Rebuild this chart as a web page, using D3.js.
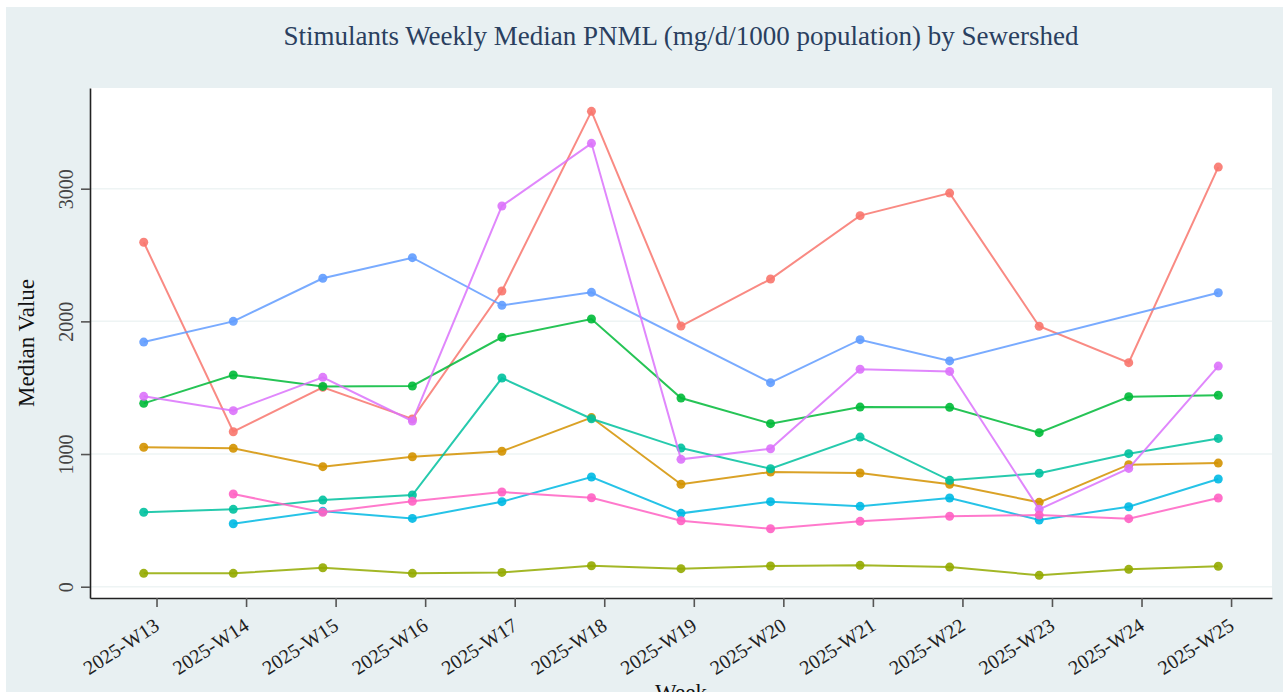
<!DOCTYPE html>
<html>
<head>
<meta charset="utf-8">
<script src="https://cdn.jsdelivr.net/npm/d3@7"></script>
<style>
html,body{margin:0;padding:0;background:#fff;}
svg{display:block;}
</style>
</head>
<body>
<svg id="chart" width="1283" height="692"></svg>
<script>
// ---- data ----
const weekDates = ["2025-03-23","2025-03-30","2025-04-06","2025-04-13","2025-04-20","2025-04-27",
  "2025-05-04","2025-05-11","2025-05-18","2025-05-25","2025-06-01","2025-06-08","2025-06-15"];
const weekLabels = ["2025-W13","2025-W14","2025-W15","2025-W16","2025-W17","2025-W18","2025-W19",
  "2025-W20","2025-W21","2025-W22","2025-W23","2025-W24","2025-W25"];
const seriesNames = ["Sewershed 1","Sewershed 2","Sewershed 3","Sewershed 4","Sewershed 5",
  "Sewershed 6","Sewershed 7","Sewershed 8","Sewershed 9"];
const seriesColors = ["#F8766D","#D39200","#93AA00","#00BA38","#00C19F","#00B9E3","#619CFF","#DB72FB","#FF61C3"];
const s1 = [2596,1168,1503,1265,2229,3583,1965,2319,2797,2967,1963,1689,3163];
const s2 = [1051,1043,905,980,1021,1275,772,865,857,772,636,920,932];
const s3 = [101,101,143,101,108,158,136,156,161,148,86,131,154];
const s4 = [1382,1596,1510,1513,1880,2018,1422,1229,1354,1352,1161,1432,1443];
const s5 = [561,583,653,691,1573,1266,1045,889,1128,802,855,1003,1118];
const s6 = [null,475,568,515,641,827,553,641,606,669,503,603,812];
const s7 = [1844,2000,2325,2480,2121,2219,null,1538,1862,1702,null,null,2216];
const s8 = [1435,1327,1578,1249,2870,3342,960,1040,1639,1623,583,892,1663];
const s9 = [null,699,561,644,714,671,497,437,493,531,540,513,669];
const seriesValues = [s1,s2,s3,s4,s5,s6,s7,s8,s9];
const yTicks = [0,1000,2000,3000];
const titleText = "Stimulants Weekly Median PNML (mg/d/1000 population) by Sewershed";
const xTitle = "Week";
const yTitle = "Median Value";

// ---- layout ----
const svg = d3.select("#chart");
const L = 90, R = 1272, T = 88, B = 598;
const font = "'Liberation Serif','Times New Roman',serif";

svg.append("rect").attr("x",6).attr("y",7).attr("width",1283-6).attr("height",692-7).attr("fill","#e8f0f2");
svg.append("rect").attr("x",L).attr("y",T).attr("width",R-L).attr("height",B-T).attr("fill","#ffffff");

const parse = d3.utcParse("%Y-%m-%d");
const dates = weekDates.map(parse);
const DAY = 864e5;
const pad = 4.2*DAY;
const x = d3.scaleUtc()
  .domain([new Date(+dates[0]-pad), new Date(+dates[dates.length-1]+pad)])
  .range([L,R]);
const y = d3.scaleLinear().domain([-85,3759]).range([B,T]);

// grid
svg.append("g").selectAll("line").data(yTicks).join("line")
  .attr("x1",L).attr("x2",R).attr("y1",d=>y(d)).attr("y2",d=>y(d))
  .attr("stroke","#eef4f4").attr("stroke-width",1.5);

// lines and points
const line = d3.line().x(d=>x(d.date)).y(d=>y(d.v));
seriesValues.forEach((vals,i)=>{
  const pts = vals.map((v,j)=>({date:dates[j],v})).filter(d=>d.v!=null);
  const g = svg.append("g").attr("class","series").attr("data-name",seriesNames[i]);
  g.append("path").datum(pts).attr("d",line).attr("fill","none")
    .attr("stroke",seriesColors[i]).attr("stroke-width",2).attr("stroke-opacity",0.85);
  g.selectAll("circle").data(pts).join("circle")
    .attr("cx",d=>x(d.date)).attr("cy",d=>y(d.v)).attr("r",4.5)
    .attr("fill",seriesColors[i]).attr("fill-opacity",0.9);
});

// axes
const tickDates = dates.map(d=>new Date(+d+DAY));
const xAxis = d3.axisBottom(x).tickValues(tickDates).tickFormat((d,i)=>weekLabels[i]).tickSize(9).tickSizeOuter(0);
const gx = svg.append("g").attr("transform",`translate(0,${B})`).call(xAxis);
gx.select(".domain").attr("stroke","#222").attr("stroke-width",1.6);
gx.selectAll(".tick line").attr("stroke","#555").attr("stroke-width",1.6);
gx.selectAll(".tick text")
  .attr("font-family",font).attr("font-size",20).attr("fill","#222")
  .attr("text-anchor","end")
  .attr("transform","translate(-4,19) rotate(-33)")
  .attr("dy","0.71em").attr("y",0);

const yAxis = d3.axisLeft(y).tickValues(yTicks).tickFormat(d3.format("d")).tickSize(9).tickSizeOuter(0);
const gy = svg.append("g").attr("transform",`translate(${L},0)`).call(yAxis);
gy.select(".domain").attr("stroke","#222").attr("stroke-width",1.6);
gy.selectAll(".tick line").attr("stroke","#555").attr("stroke-width",1.6);
gy.selectAll(".tick text")
  .attr("font-family",font).attr("font-size",20).attr("fill","#444")
  .attr("x",0).attr("dy",0)
  .attr("text-anchor","middle")
  .attr("transform","translate(-17,0) rotate(-90)");

// titles
svg.append("text").attr("x",681).attr("y",45).attr("text-anchor","middle")
  .attr("font-family",font).attr("font-size",27).attr("fill","#2a3f5f").text(titleText);
svg.append("text").attr("transform","translate(34,343) rotate(-90)").attr("text-anchor","middle")
  .attr("font-family",font).attr("font-size",23).attr("fill","#111").text(yTitle);
svg.append("text").attr("x",681).attr("y",700).attr("text-anchor","middle")
  .attr("font-family",font).attr("font-size",23).attr("fill","#111").text(xTitle);
</script>
</body>
</html>
